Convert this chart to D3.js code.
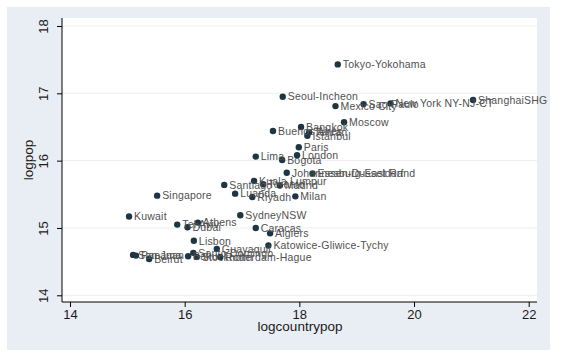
<!DOCTYPE html>
<html><head><meta charset="utf-8">
<script src="https://cdn.jsdelivr.net/npm/d3@7"></script>
<style>body{margin:0;background:#fff}svg{display:block}</style>
</head><body><svg id="c" width="570" height="356"></svg>
<script>
const cities = ["Tokyo-Yokohama","Seoul-Incheon","Mexico City","Sao Paulo","New York NY-NJ-CT","ShanghaiSHG","Moscow","Bangkok","Buenos Aires","Tehran","Istanbul","Paris","London","Lima","Bogota","Johannesburg-East Rand","Essen-Dusseldorf","Kuala Lumpur","Toronto","Madrid","Santiago","Luanda","Riyadh","Milan","Singapore","Kuwait","SydneyNSW","Tel Aviv","Athens","Dubai","Caracas","Algiers","Lisbon","Katowice-Gliwice-Tychy","Guayaquil","Santo Domingo","San Juan","Panama","Beirut","Baku","Stockholm","Rotterdam-Hague"];
const logcountrypop = [18.67,17.71,18.63,19.12,19.59,21.03,18.78,18.03,17.54,18.17,18.14,17.99,17.96,17.24,17.70,17.78,18.23,17.21,17.37,17.66,16.69,16.88,17.18,17.93,15.52,15.03,16.97,15.87,16.23,16.05,17.24,17.49,16.16,17.46,16.56,16.15,15.10,15.15,15.38,16.06,16.21,16.62];
const logpop = [17.43,16.95,16.81,16.84,16.85,16.90,16.57,16.50,16.44,16.42,16.37,16.20,16.08,16.06,16.01,15.82,15.81,15.70,15.65,15.63,15.64,15.51,15.46,15.47,15.48,15.17,15.19,15.05,15.08,15.01,15.00,14.92,14.81,14.74,14.69,14.63,14.60,14.59,14.54,14.58,14.57,14.57];
const xTicks = [14,16,18,20,22];
const yTicks = [14,15,16,17,18];
const xTitle = "logcountrypop", yTitle = "logpop";

const svg = d3.select("#c");
const font = "'Liberation Sans', Arial, sans-serif";
svg.append("rect").attr("x",7).attr("y",7).attr("width",543).attr("height",343).attr("fill","#e9eef4");
svg.append("rect").attr("x",62).attr("y",18).attr("width",475).attr("height",284).attr("fill","#ffffff");

const x = d3.scaleLinear().domain([14,22]).range([70,528.7]);
const y = d3.scaleLinear().domain([14,18]).range([295.3,26]);

svg.append("g").selectAll("line").data(yTicks).join("line")
  .attr("x1",62).attr("x2",537).attr("y1",d=>y(d)).attr("y2",d=>y(d))
  .attr("stroke","#eceff1").attr("stroke-width",1);

const xa = svg.append("g").attr("transform","translate(0,302)")
  .call(d3.axisBottom(x).tickValues(xTicks).tickSize(5).tickPadding(3).tickFormat(d3.format("d")));
xa.select(".domain").attr("d","M62,0H537").attr("stroke","#000");
xa.selectAll("text").attr("font-family",font).attr("font-size",13).attr("fill","#1a1a1a");
const ya = svg.append("g").attr("transform","translate(62,0)")
  .call(d3.axisLeft(y).tickValues(yTicks).tickSize(5).tickFormat(d3.format("d")));
ya.select(".domain").attr("d","M0,18V302").attr("stroke","#000");
ya.selectAll("text").attr("font-family",font).attr("font-size",13).attr("fill","#1a1a1a")
  .attr("text-anchor","middle").attr("x",0).attr("dy",0)
  .attr("transform","translate(-14,0) rotate(-90)");

svg.append("text").attr("x",300).attr("y",330.5).attr("text-anchor","middle")
  .attr("font-family",font).attr("font-size",13.5).attr("fill","#1a1a1a").text(xTitle);
svg.append("text").attr("transform","translate(32.5,160) rotate(-90)").attr("text-anchor","middle")
  .attr("font-family",font).attr("font-size",13.5).attr("fill","#1a1a1a").text(yTitle);

const data = cities.map((c,i)=>({c, x:logcountrypop[i], y:logpop[i]}));
const g = svg.append("g");
g.selectAll("circle").data(data).join("circle")
  .attr("cx",d=>x(d.x)).attr("cy",d=>y(d.y)).attr("r",3.2)
  .attr("fill","#1d3646");
g.selectAll("text").data(data).join("text")
  .attr("x",d=>x(d.x)+5).attr("y",d=>y(d.y)+3.8)
  .attr("font-family",font).attr("font-size",10.5).attr("letter-spacing",0.2).attr("fill","#505050")
  .text(d=>d.c);
</script></body></html>
